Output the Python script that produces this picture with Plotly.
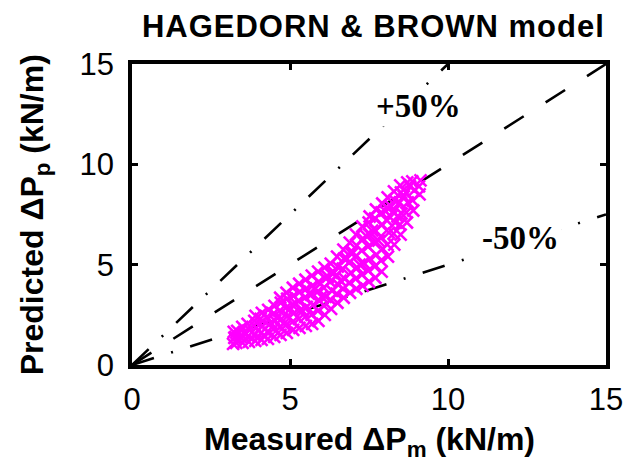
import plotly.graph_objects as go

# Measured (x) and predicted (y) pressure gradients, kN/m
measured = [
    3.20, 3.24, 3.22,
    3.30, 3.27, 3.33,
    3.50, 3.47, 3.53, 3.49,
    3.70, 3.68, 3.72, 3.66,
    3.90, 3.88, 3.93, 3.87, 3.91,
    4.10, 4.08, 4.13, 4.07, 4.11,
    4.30, 4.28, 4.33, 4.27, 4.31,
    4.50, 4.48, 4.53, 4.47, 4.51,
    4.70, 4.68, 4.73, 4.67, 4.71, 4.69,
    4.90, 4.88, 4.93, 4.87, 4.91, 4.89,
    5.10, 5.08, 5.13, 5.07, 5.11, 5.09,
    5.30, 5.28, 5.33, 5.27, 5.31, 5.29,
    5.50, 5.48, 5.53, 5.47, 5.51, 5.49,
    5.70, 5.68, 5.73, 5.67, 5.71, 5.69,
    5.90, 5.88, 5.93, 5.87, 5.91, 5.89,
    6.10, 6.08, 6.13, 6.07, 6.11, 6.09,
    6.30, 6.28, 6.33, 6.27, 6.31, 6.29,
    6.50, 6.48, 6.53, 6.47, 6.51, 6.49,
    6.70, 6.68, 6.73, 6.67, 6.71, 6.69,
    6.90, 6.88, 6.93, 6.87, 6.91, 6.89,
    7.10, 7.08, 7.13, 7.07, 7.11, 7.09,
    7.30, 7.28, 7.33, 7.27, 7.31, 7.29,
    7.50, 7.48, 7.53, 7.47, 7.51, 7.49, 7.52,
    7.70, 7.68, 7.73, 7.67, 7.71, 7.69, 7.72,
    7.90, 7.88, 7.93, 7.87, 7.91, 7.89, 7.92,
    8.10, 8.08, 8.13, 8.07, 8.11, 8.09,
    8.30, 8.28, 8.33, 8.27, 8.31, 8.29,
    8.50, 8.48, 8.53, 8.47, 8.51, 8.49,
    8.70, 8.68, 8.73, 8.67, 8.71,
    8.90, 8.88, 8.93, 8.87,
    9.10, 9.08, 9.13,
    4.00, 4.60, 5.20, 5.80, 6.40, 7.00, 7.60, 8.20, 8.80,
    4.20, 4.80, 5.40, 6.00, 6.60, 7.20, 7.80, 8.40,
    3.60, 4.40, 5.00, 5.60, 6.20, 6.80, 7.40, 8.00, 8.60,
]
predicted = [
    1.05, 1.35, 1.65,
    1.10, 1.40, 1.70,
    1.10, 1.35, 1.60, 1.90,
    1.15, 1.45, 1.75, 2.05,
    1.20, 1.50, 1.85, 2.20, 2.45,
    1.25, 1.60, 1.95, 2.30, 2.60,
    1.30, 1.65, 2.00, 2.40, 2.75,
    1.40, 1.80, 2.20, 2.55, 2.95,
    1.50, 1.90, 2.30, 2.70, 3.10, 3.35,
    1.60, 2.00, 2.45, 2.85, 3.30, 3.60,
    1.75, 2.15, 2.60, 3.00, 3.45, 3.85,
    1.85, 2.30, 2.75, 3.20, 3.65, 4.05,
    1.95, 2.40, 2.90, 3.35, 3.80, 4.25,
    2.05, 2.50, 3.00, 3.50, 3.95, 4.45,
    2.20, 2.70, 3.20, 3.65, 4.15, 4.65,
    2.50, 2.95, 3.40, 3.85, 4.35, 4.85,
    2.80, 3.25, 3.70, 4.15, 4.60, 5.05,
    3.10, 3.55, 4.00, 4.45, 4.90, 5.40,
    3.35, 3.80, 4.30, 4.80, 5.30, 5.75,
    3.60, 4.10, 4.60, 5.10, 5.60, 6.10,
    3.80, 4.30, 4.85, 5.40, 5.95, 6.50,
    3.95, 4.50, 5.10, 5.70, 6.30, 6.90,
    4.15, 4.70, 5.30, 5.90, 6.50, 7.10, 7.40,
    4.35, 4.90, 5.50, 6.10, 6.70, 7.30, 7.75,
    4.65, 5.20, 5.80, 6.40, 7.00, 7.60, 8.05,
    5.40, 6.00, 6.60, 7.20, 7.80, 8.35,
    6.00, 6.55, 7.10, 7.65, 8.20, 8.65,
    6.50, 7.00, 7.55, 8.10, 8.60, 8.95,
    7.10, 7.60, 8.10, 8.60, 9.10,
    7.70, 8.20, 8.70, 9.15,
    8.50, 8.90, 9.20,
    1.75, 2.40, 3.05, 3.80, 4.60, 5.60, 6.70, 7.90, 8.90,
    1.45, 2.05, 2.70, 3.40, 4.20, 5.00, 6.20, 7.40,
    1.55, 2.10, 2.80, 3.55, 4.40, 5.30, 6.45, 7.70, 8.40,
]

# Reference lines: perfect agreement and +/-50 %
ideal_x = [0, 15]
ideal_y = [0, 15]
plus50_x = [0, 10]
plus50_y = [0, 15]
minus50_x = [0, 15]
minus50_y = [0, 7.5]

tick_vals = [0, 5, 10, 15]
tick_text = ["0", "5", "10", "15"]

FONT = "Liberation Sans, Arial, sans-serif"
SERIF = "Liberation Serif, Times New Roman, serif"
DASHDOT = "23px,18px,2px,18px"
DASHED = "23px,26px"

fig = go.Figure()
fig.add_trace(go.Scatter(x=plus50_x, y=plus50_y, mode="lines",
                         line=dict(color="black", width=2.6, dash=DASHDOT),
                         showlegend=False, hoverinfo="skip"))
fig.add_trace(go.Scatter(x=ideal_x, y=ideal_y, mode="lines",
                         line=dict(color="black", width=2.6, dash=DASHED),
                         showlegend=False, hoverinfo="skip"))
fig.add_trace(go.Scatter(x=minus50_x, y=minus50_y, mode="lines",
                         line=dict(color="black", width=2.6, dash=DASHDOT),
                         showlegend=False, hoverinfo="skip"))
fig.add_trace(go.Scatter(x=measured, y=predicted, mode="markers",
                         marker=dict(symbol="x-thin", size=12, color="#ff00ff",
                                     line=dict(color="#ff00ff", width=2.6)),
                         showlegend=False))

fig.add_annotation(x=9.06, y=12.9, text="<b>+50%</b>", showarrow=False,
                   bgcolor="white", borderpad=2,
                   font=dict(family=SERIF, size=33, color="black"))
fig.add_annotation(x=12.3, y=6.35, text="<b>-50%</b>", showarrow=False,
                   bgcolor="white", borderpad=2,
                   font=dict(family=SERIF, size=33, color="black"))

# axis titles placed as annotations for precise positioning
fig.add_annotation(xref="paper", yref="paper", x=-0.205, y=0.5,
                   text="<b>Predicted ΔP<sub>p</sub> (kN/m)</b>", textangle=-90,
                   showarrow=False, xanchor="center", yanchor="middle",
                   font=dict(family=FONT, size=32, color="black"))
fig.add_annotation(xref="paper", yref="paper", x=0.5, y=-0.178,
                   text="<b>Measured ΔP<sub>m</sub> (kN/m)</b>",
                   showarrow=False, xanchor="center", yanchor="top",
                   font=dict(family=FONT, size=32, color="black"))

axis_common = dict(range=[0, 15], tickvals=tick_vals, ticktext=tick_text,
                   showgrid=False, zeroline=False, showline=True, linecolor="black",
                   linewidth=3.5, mirror="ticks", ticks="inside", ticklen=6,
                   tickwidth=3, tickcolor="black",
                   tickfont=dict(family=FONT, size=31, color="black"))

fig.update_layout(
    width=635, height=471,
    margin=dict(l=132, r=23, t=64, b=106),
    paper_bgcolor="white", plot_bgcolor="white",
    title=dict(text='<span style="letter-spacing:1px"><b>HAGEDORN &amp; BROWN model</b></span>',
               x=0.588, xanchor="center", y=0.945, yanchor="middle",
               font=dict(family=FONT, size=31, color="black")),
    xaxis=dict(**axis_common, ticklabelstandoff=4),
    yaxis=dict(**axis_common, ticklabelstandoff=8),
)

fig.write_html("out.html")
